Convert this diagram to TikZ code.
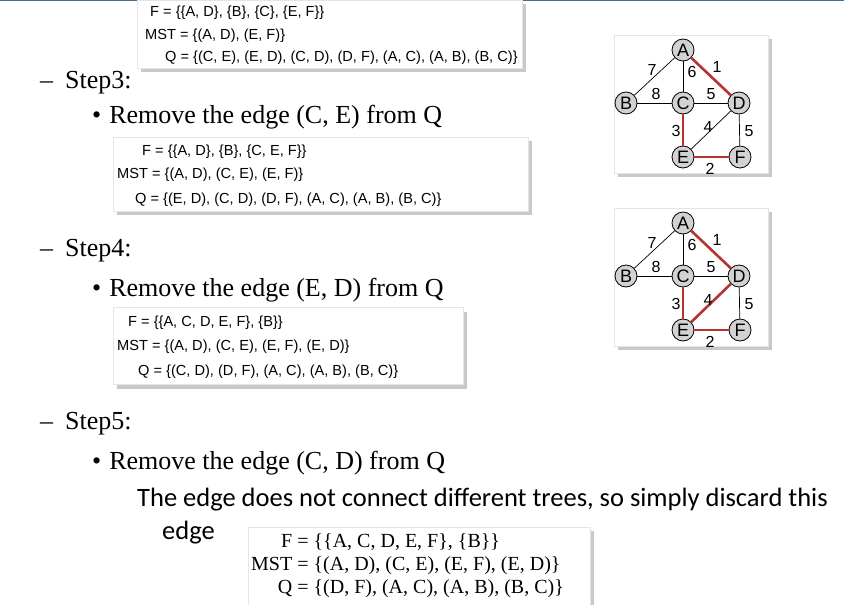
\documentclass[tikz,border=0pt]{standalone}
\usepackage{fontspec}
\setmainfont{Liberation Serif}
\newfontfamily\boxfont{Liberation Sans}
\newfontfamily\calib{Carlito}
\usetikzlibrary{shadows}
\definecolor{redE}{RGB}{185,50,50}
\tikzset{x=1pt,y=-1pt,
 panel/.style={fill=white,draw=gray!20,drop shadow={shadow xshift=4pt,shadow yshift=-4pt,opacity=0.6,fill=gray!70}},
 bx/.style={font=\boxfont\fontsize{14.6}{16}\selectfont,anchor=west,inner sep=0pt},
 vx/.style={circle,draw,line width=0.8pt,fill=gray!35,minimum size=22pt,inner sep=0pt,font=\boxfont\fontsize{18}{19}\selectfont},
 ed/.style={draw,line width=0.7pt},
 red/.style={draw=redE,line width=2.6pt},
 el/.style={font=\boxfont\fontsize{16}{17}\selectfont,inner sep=0pt},
 head/.style={font=\fontsize{26}{28}\selectfont,anchor=west,inner sep=0pt},
 sub/.style={font=\fontsize{26}{28}\selectfont,anchor=west,inner sep=0pt}}
\newcommand\graphpanel[2]{%
 \begin{scope}[yshift=#1]
 \node[panel,minimum width=154pt,minimum height=138pt,inner sep=0pt] (p#2) at (691,104) {};
 \node[vx] (A#2) at (683,50) {A};
 \node[vx] (B#2) at (626,103) {B};
 \node[vx] (C#2) at (683,103) {C};
 \node[vx] (D#2) at (739,103) {D};
 \node[vx] (E#2) at (683,157) {E};
 \node[vx] (F#2) at (740,157) {F};
 \end{scope}}
\begin{document}
\begin{tikzpicture}
\useasboundingbox (0,0) rectangle (844,605);
\fill[white] (0,0) rectangle (844,605);
\draw[color={rgb,255:red,70;green,110;blue,150},line width=1.5pt] (0,0.7)--(844,0.7);
% box 1
\node[panel,minimum width=385pt,minimum height=68pt,inner sep=0pt] (b1) at (329.5,34) {};
\node[bx] (b1a) at (150,13) {F = \{\{A, D\}, \{B\}, \{C\}, \{E, F\}\}};
\node[bx] (b1b) at (145,36) {MST = \{(A, D), (E, F)\}};
\node[bx] (b1c) at (165,58) {Q = \{(C, E), (E, D), (C, D), (D, F), (A, C), (A, B), (B, C)\}};
% step3
\node[head] (s3) at (40,83) {–\hspace{12pt}Step3:};
\node[sub] (s3b) at (92,117) {•\hspace{8pt}Remove the edge (C, E) from Q};
\node[panel,minimum width=415pt,minimum height=74pt,inner sep=0pt] (b2) at (320.5,174) {};
\node[bx] (b2a) at (142,152) {F = \{\{A, D\}, \{B\}, \{C, E, F\}\}};
\node[bx] (b2b) at (117,175) {MST = \{(A, D), (C, E), (E, F)\}};
\node[bx] (b2c) at (135,200) {Q = \{(E, D), (C, D), (D, F), (A, C), (A, B), (B, C)\}};
% step4
\node[head] (s4) at (40,251) {–\hspace{12pt}Step4:};
\node[sub] (s4b) at (92,290) {•\hspace{8pt}Remove the edge (E, D) from Q};
\node[panel,minimum width=350pt,minimum height=77pt,inner sep=0pt] (b3) at (288,346) {};
\node[bx] (b3a) at (128,323) {F = \{\{A, C, D, E, F\}, \{B\}\}};
\node[bx] (b3b) at (117,347) {MST = \{(A, D), (C, E), (E, F), (E, D)\}};
\node[bx] (b3c) at (138,372) {Q = \{(C, D), (D, F), (A, C), (A, B), (B, C)\}};
% step5
\node[head] (s5) at (40,424) {–\hspace{12pt}Step5:};
\node[sub] (s5b) at (92,463) {•\hspace{8pt}Remove the edge (C, D) from Q};
\node[anchor=west,inner sep=0pt,font=\calib\fontsize{26.5}{28}\selectfont] (t1) at (137,500) {The edge does not connect different trees, so simply discard this};
\node[anchor=west,inner sep=0pt,font=\calib\fontsize{26.5}{28}\selectfont] (t2) at (162,533) {edge};
\node[panel,minimum width=342pt,minimum height=78pt,inner sep=0pt] (b4) at (419,566) {};
\node[anchor=west,inner sep=0pt,font=\fontsize{20}{23}\selectfont] (b4t) at (251,566) {\begin{tabular}{@{}r@{ }l@{}}
F & = \{\{A, C, D, E, F\}, \{B\}\}\\
MST & = \{(A, D), (C, E), (E, F), (E, D)\}\\
Q & = \{(D, F), (A, C), (A, B), (B, C)\}\end{tabular}};
% graphs
\graphpanel{0}{1}
\graphpanel{-173}{2}
\foreach \g in {1,2}{
 \draw[ed] (A\g)--(B\g); \draw[ed] (A\g)--(C\g); \draw[ed] (B\g)--(C\g);
 \draw[ed] (C\g)--(D\g); \draw[ed] (D\g)--(F\g);
 \draw[red] (A\g)--(D\g); \draw[red] (C\g)--(E\g); \draw[red] (E\g)--(F\g);
}
\draw[ed] (D1)--(E1);
\draw[red] (D2)--(E2);
\foreach \g/\s in {1/0,2/-173}{
 \begin{scope}[yshift=\s]
 \node[el] (l7\g) at (652,70) {7};
 \node[el] (l6\g) at (692,72) {6};
 \node[el] (l1\g) at (717,67) {1};
 \node[el] (l8\g) at (656,94) {8};
 \node[el] (l5\g) at (711,94) {5};
 \node[el] (l3\g) at (676,131) {3};
 \node[el] (l4\g) at (708,127) {4};
 \node[el] (l9\g) at (749,131) {5};
 \node[el] (l2\g) at (710,169) {2};
 \end{scope}}
\end{tikzpicture}
\end{document}
